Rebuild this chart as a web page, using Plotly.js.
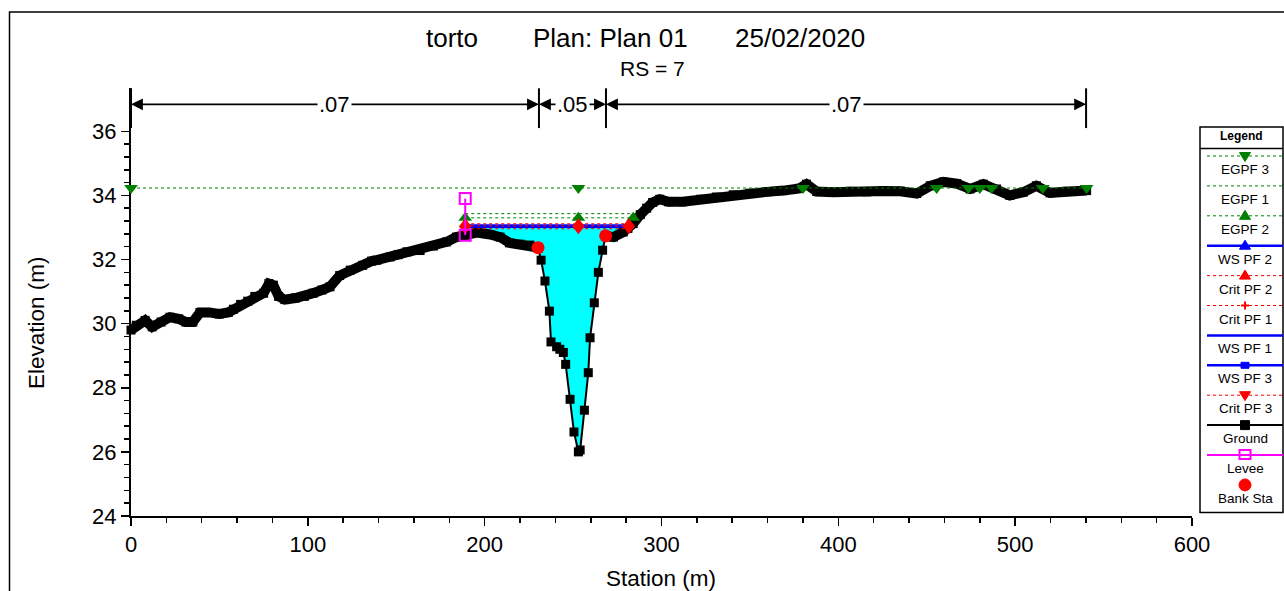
<!DOCTYPE html>
<html><head><meta charset="utf-8">
<script src="https://cdn.plot.ly/plotly-3.0.1.min.js"></script>
<style>html,body{margin:0;padding:0;background:#fff}#chart{width:1284px;height:591px}</style>
</head><body><div id="chart"></div>
<script>
// ---------------- data ----------------
const groundStation = [0, 3, 8, 12, 17, 22, 27, 31, 35, 39, 44, 50, 55, 58, 62, 66, 70, 75, 78, 80.5, 83.5, 87, 93, 98, 103, 108, 112.5, 118, 124, 131, 136, 139, 146.5, 151, 156, 163.5, 171, 178.5, 184, 189, 195.5, 203, 208.7, 214, 220, 225.6, 230.2,
  231.9, 234.1, 236.6, 237.5, 240.7, 242.5, 244.5, 245.8, 248.3, 250.5, 253, 254, 256.4, 258.6, 259.6, 262, 264.3, 266.7, 268.4,
  272.8, 278.4, 281, 284, 288, 291.6, 295, 299, 304, 312, 322, 331, 340.6, 350, 359.5, 369, 378, 382, 387.8, 397, 406.6, 416, 425.5, 435, 444.3, 452, 459.4, 467, 474.5, 482, 489.5, 497, 504.6, 512, 519.7, 529, 540.4];
const groundElev = [29.8, 29.95, 30.1, 29.9, 30.05, 30.2, 30.15, 30.05, 30.05, 30.35, 30.35, 30.3, 30.35, 30.45, 30.6, 30.7, 30.85, 30.95, 31.25, 31.2, 30.85, 30.75, 30.8, 30.85, 30.95, 31.05, 31.15, 31.5, 31.67, 31.82, 31.95, 31.98, 32.08, 32.15, 32.24, 32.28, 32.42, 32.55, 32.7, 32.76, 32.84, 32.78, 32.7, 32.52, 32.48, 32.45, 32.37,
  31.98, 31.33, 30.39, 29.43, 29.28, 29.2, 29.1, 28.73, 27.64, 26.62, 26.0, 26.06, 27.3, 28.47, 29.56, 30.65, 31.6, 32.29, 32.74,
  32.7, 32.86, 32.97, 33.12, 33.4, 33.6, 33.78, 33.88, 33.8, 33.8, 33.88, 33.95, 34.02, 34.07, 34.11, 34.15, 34.22, 34.35, 34.12, 34.1, 34.13, 34.11, 34.14, 34.13, 34.06, 34.3, 34.42, 34.37, 34.2, 34.35, 34.2, 34.0, 34.1, 34.3, 34.08, 34.13, 34.15];

const bankStation = [230.2, 268.4];
const bankElev = [32.37, 32.74];
const leveeStation = [189, 189];
const leveeElev = [32.76, 33.9];

const egPf3Station = [0, 253, 380, 455.6, 473.6, 480, 486.6, 515.6, 540.4];
const egPf3Elev = [34.23, 34.23, 34.23, 34.23, 34.23, 34.23, 34.23, 34.23, 34.23];
const egPf1Station = [189, 287];
const egPf1Elev = [33.43, 33.43];
const egPf2Station = [189, 253, 284];
const egPf2Elev = [33.30, 33.30, 33.30];
const wsPf2Station = [189, 253, 281.5];
const wsPf2Elev = [33.06, 33.06, 33.06];
const critPf2Station = [189, 253, 281.5];
const critPf2Elev = [33.115, 33.115, 33.115];
const critPf1Station = [189, 253, 281.5];
const critPf1Elev = [33.05, 33.05, 33.05];
const wsPf1Station = [189, 281.5];
const wsPf1Elev = [33.04, 33.04];
const wsPf3Station = [189, 253, 281.5];
const wsPf3Elev = [33.02, 33.02, 33.02];
const critPf3Station = [189, 253, 281.5];
const critPf3Elev = [32.96, 32.96, 32.96];

const nBoundaries = [0, 230.7, 268.6, 540.1];
const nValues = ['.07', '.05', '.07'];
const nArrowElev = 36.84;

const legendNames = ['EGPF 3', 'EGPF 1', 'EGPF 2', 'WS PF 2', 'Crit PF 2', 'Crit PF 1', 'WS PF 1', 'WS PF 3', 'Crit PF 3', 'Ground', 'Levee', 'Bank Sta'];

const xTickVals = [0, 100, 200, 300, 400, 500, 600];
const yTickVals = [24, 26, 28, 30, 32, 34, 36];

// ---------------- styles ----------------
const FONT = 'Arial, "Liberation Sans", sans-serif';
const GREEN = '#008000', BLUE = '#0000FF', RED = '#FF0000', MAG = '#FF00FF', CYAN = '#00FFFF';
const L = 131, R = 1192, T = 88, B = 516, W = 1284, H = 591;
const px2paperX = p => (p - L) / (R - L);
const px2paperY = p => (B - p) / (B - T);
const P = (x, y) => `${px2paperX(x)},${px2paperY(y)}`;

const lineStyles = {
  eg: {color: GREEN, width: 1, dash: 'dot'},
  ws: {color: BLUE, width: 2.5, dash: 'solid'},
  crit: {color: RED, width: 1, dash: 'dot'},
  ground: {color: '#000', width: 2, dash: 'solid'},
  levee: {color: MAG, width: 2, dash: 'solid'},
  none: null
};
const legendStyles = [
  {line: 'eg', sym: 'triangle-down', color: GREEN},
  {line: 'eg', sym: null},
  {line: 'eg', sym: 'triangle-up', color: GREEN},
  {line: 'ws', sym: 'triangle-up', color: BLUE},
  {line: 'crit', sym: 'triangle-up', color: RED},
  {line: 'crit', sym: 'cross', color: RED},
  {line: 'ws', sym: null},
  {line: 'ws', sym: 'square-small', color: BLUE},
  {line: 'crit', sym: 'triangle-down', color: RED},
  {line: 'ground', sym: 'square', color: '#000'},
  {line: 'levee', sym: 'square-open', color: MAG},
  {line: 'none', sym: 'circle', color: RED}
];

// ---------------- traces ----------------
const traces = [];

// water fill between WS and ground
const fillLevel = wsPf3Elev[0];
const wsEnd = wsPf3Station[wsPf3Station.length - 1];
const fillX = [leveeStation[0]], fillY = [fillLevel];
groundStation.forEach((s, i) => {
  if (s > leveeStation[0] && s < wsEnd) { fillX.push(s); fillY.push(groundElev[i]); }
});
fillX.push(wsEnd); fillY.push(fillLevel);
traces.push({x: fillX, y: fillY, mode: 'lines', fill: 'toself', fillcolor: CYAN, line: {width: 0, color: CYAN}, hoverinfo: 'skip', showlegend: false});

// ground split into overbanks (dense -> thick band) and channel
function pick(cond) {
  const xs = [], ys = [];
  groundStation.forEach((s, i) => { if (cond(s)) { xs.push(s); ys.push(groundElev[i]); } });
  return {xs, ys};
}
const lob = pick(s => s <= bankStation[0]);
const ch = pick(s => s >= bankStation[0] && s <= bankStation[1]);
const rob = pick(s => s >= bankStation[1]);
[[lob, 10], [ch, 2], [rob, 10]].forEach(([p, w]) => {
  traces.push({x: p.xs, y: p.ys, mode: 'lines+markers', line: {color: '#000', width: w},
    marker: {symbol: 'square', size: 9, color: '#000'}, showlegend: false, cliponaxis: false});
});

function profile(xs, ys, style, sym, color, size) {
  const t = {x: xs, y: ys, mode: sym ? 'lines+markers' : 'lines', line: Object.assign({}, lineStyles[style]), showlegend: false, cliponaxis: false};
  if (sym) t.marker = {symbol: sym, color: color, size: size};
  return t;
}
traces.push(profile(egPf3Station, egPf3Elev, 'eg', 'triangle-down', GREEN, 12));
traces.push(profile(egPf1Station, egPf1Elev, 'eg', null));
traces.push(profile(egPf2Station, egPf2Elev, 'eg', 'triangle-up', GREEN, 12));
traces.push(profile(wsPf2Station, wsPf2Elev, 'ws', 'triangle-up', BLUE, 10));
traces.push(profile(wsPf1Station, wsPf1Elev, 'ws', null));
traces.push(profile(wsPf3Station, wsPf3Elev, 'ws', 'square', BLUE, 6));
traces.push(profile(critPf2Station, critPf2Elev, 'crit', 'triangle-up', RED, 11));
traces.push(profile(critPf3Station, critPf3Elev, 'crit', 'triangle-down', RED, 11));
traces.push(profile(critPf1Station, critPf1Elev, 'crit', 'cross-thin', RED, 7));

// levee
traces.push({x: leveeStation, y: leveeElev, mode: 'lines+markers', line: {color: MAG, width: 2},
  marker: {symbol: 'square-open', size: 11, color: MAG, line: {width: 2, color: MAG}}, showlegend: false});
// bank stations
traces.push({x: bankStation, y: bankElev, mode: 'markers', marker: {symbol: 'circle', size: 13, color: RED}, showlegend: false});

// ---------------- custom legend ----------------
const LEG = {x0: 1200, x1: 1283, y0: 127, y1: 512.5, sep: 148.5, first: 156, step: 29.9, lx0: 1207, lx1: 1283, mx: 1245, textDy: 13.5};
const shapes = [];
const annotations = [];

shapes.push({type: 'rect', xref: 'paper', yref: 'paper', x0: px2paperX(LEG.x0), x1: px2paperX(LEG.x1), y0: px2paperY(LEG.y1), y1: px2paperY(LEG.y0),
  line: {color: '#000', width: 1.5}, fillcolor: '#fff', layer: 'below'});
shapes.push({type: 'line', xref: 'paper', yref: 'paper', x0: px2paperX(LEG.x0), x1: px2paperX(LEG.x1), y0: px2paperY(LEG.sep), y1: px2paperY(LEG.sep), line: {color: '#000', width: 1.5}});
annotations.push({xref: 'paper', yref: 'paper', x: px2paperX((LEG.x0 + LEG.x1) / 2), y: px2paperY(136), text: '<b>Legend</b>', showarrow: false,
  font: {family: FONT, size: 12, color: '#000'}, xanchor: 'center', yanchor: 'middle'});

function glyph(sym, x, y, color) {
  const base = {xref: 'paper', yref: 'paper', layer: 'above'};
  if (sym === 'triangle-down') return [Object.assign({type: 'path', path: `M ${P(x - 5.5, y - 3.5)} L ${P(x + 5.5, y - 3.5)} L ${P(x, y + 5.5)} Z`, fillcolor: color, line: {color: color, width: 1}}, base)];
  if (sym === 'triangle-up') return [Object.assign({type: 'path', path: `M ${P(x - 5.5, y + 3.5)} L ${P(x + 5.5, y + 3.5)} L ${P(x, y - 5.5)} Z`, fillcolor: color, line: {color: color, width: 1}}, base)];
  if (sym === 'square') return [Object.assign({type: 'rect', x0: px2paperX(x - 4.5), x1: px2paperX(x + 4.5), y0: px2paperY(y + 4.5), y1: px2paperY(y - 4.5), fillcolor: color, line: {color: color, width: 1}}, base)];
  if (sym === 'square-small') return [Object.assign({type: 'rect', x0: px2paperX(x - 4), x1: px2paperX(x + 4), y0: px2paperY(y + 3), y1: px2paperY(y - 3), fillcolor: color, line: {color: color, width: 1}}, base)];
  if (sym === 'square-open') return [Object.assign({type: 'rect', x0: px2paperX(x - 5.5), x1: px2paperX(x + 5.5), y0: px2paperY(y + 4), y1: px2paperY(y - 5), fillcolor: 'rgba(0,0,0,0)', line: {color: color, width: 2}}, base)];
  if (sym === 'circle') return [Object.assign({type: 'circle', x0: px2paperX(x - 6), x1: px2paperX(x + 6), y0: px2paperY(y + 6), y1: px2paperY(y - 6), fillcolor: color, line: {color: color, width: 1}}, base)];
  if (sym === 'cross') return [
    Object.assign({type: 'line', x0: px2paperX(x - 4), x1: px2paperX(x + 4), y0: px2paperY(y), y1: px2paperY(y), line: {color: color, width: 2}}, base),
    Object.assign({type: 'line', x0: px2paperX(x), x1: px2paperX(x), y0: px2paperY(y - 4), y1: px2paperY(y + 4), line: {color: color, width: 2}}, base)];
  return [];
}

legendNames.forEach((name, i) => {
  const st = legendStyles[i];
  const ly = LEG.first + i * LEG.step;
  const ls = lineStyles[st.line];
  if (ls) {
    shapes.push({type: 'line', xref: 'paper', yref: 'paper', x0: px2paperX(LEG.lx0), x1: px2paperX(LEG.lx1), y0: px2paperY(ly), y1: px2paperY(ly),
      line: {color: ls.color, width: ls.width, dash: ls.dash}});
  }
  if (st.sym) glyph(st.sym, LEG.mx, ly, st.color).forEach(s => shapes.push(s));
  annotations.push({xref: 'paper', yref: 'paper', x: px2paperX(LEG.mx), y: px2paperY(ly + LEG.textDy), text: name, showarrow: false,
    font: {family: FONT, size: 13.5, color: '#000'}, xanchor: 'center', yanchor: 'middle'});
});

// ---------------- Manning's n annotations ----------------
nBoundaries.forEach(b => {
  shapes.push({type: 'line', xref: 'x', yref: 'y', x0: b, x1: b, y0: 36.1, y1: 37.34, line: {color: '#000', width: 2}});
});
for (let i = 0; i < nValues.length; i++) {
  const a = nBoundaries[i], b = nBoundaries[i + 1], m = (a + b) / 2;
  [a, b].forEach(end => {
    annotations.push({xref: 'x', yref: 'y', axref: 'x', ayref: 'y', x: end, y: nArrowElev, ax: m, ay: nArrowElev, text: '',
      showarrow: true, arrowhead: 2, arrowsize: 1.4, arrowwidth: 1.7, arrowcolor: '#000', standoff: 0, startstandoff: 0});
  });
}
for (let i = 0; i < nValues.length; i++) {
  const m = (nBoundaries[i] + nBoundaries[i + 1]) / 2;
  annotations.push({xref: 'x', yref: 'y', x: m, y: nArrowElev, text: nValues[i], showarrow: false, bgcolor: '#fff', borderpad: 1,
    font: {family: FONT, size: 22, color: '#000'}, xanchor: 'center', yanchor: 'middle'});
}

// ---------------- titles ----------------
const titleParts = [['torto', 452], ['Plan: Plan 01', 610], ['25/02/2020', 800]];
titleParts.forEach(([t, cx]) => {
  annotations.push({xref: 'paper', yref: 'paper', x: px2paperX(cx), y: px2paperY(38), text: t, showarrow: false,
    font: {family: FONT, size: 26, color: '#000'}, xanchor: 'center', yanchor: 'middle'});
});
annotations.push({xref: 'paper', yref: 'paper', x: px2paperX(652), y: px2paperY(68), text: 'RS = 7', showarrow: false,
  font: {family: FONT, size: 21, color: '#000'}, xanchor: 'center', yanchor: 'middle'});
annotations.push({xref: 'paper', yref: 'paper', x: px2paperX(36), y: px2paperY(323), text: 'Elevation (m)', textangle: -90, showarrow: false,
  font: {family: FONT, size: 22.5, color: '#000'}, xanchor: 'center', yanchor: 'middle'});
annotations.push({xref: 'paper', yref: 'paper', x: px2paperX(661), y: px2paperY(578), text: 'Station (m)', showarrow: false,
  font: {family: FONT, size: 22.5, color: '#000'}, xanchor: 'center', yanchor: 'middle'});

// outer frame (left + top edges visible)
shapes.push({type: 'path', xref: 'paper', yref: 'paper',
  path: `M ${P(9.5, 700)} L ${P(9.5, 12)} L ${P(1400, 12)}`,
  line: {color: '#000', width: 1.5}});

// minor tick positions (only inside labelled span)
const yMinor = [];
for (let k = 1; k < 30; k++) { const v = +(24 + k * 0.4).toFixed(1); if (v < 36 && Math.abs(v / 2 - Math.round(v / 2)) > 1e-6) yMinor.push(v); }
const xMinor = [];
for (let v = 20; v < 600; v += 20) if (v % 100 !== 0) xMinor.push(v);

const layout = {
  width: W, height: H,
  margin: {l: L, r: W - R, t: T, b: H - B, pad: 0},
  paper_bgcolor: '#fff', plot_bgcolor: '#fff',
  showlegend: false,
  font: {family: FONT, color: '#000'},
  xaxis: {range: [0, 600], tickvals: xTickVals, ticktext: xTickVals.map(String), ticks: 'outside', ticklen: 8, tickwidth: 1.5, tickcolor: '#000',
    showline: true, linecolor: '#000', linewidth: 2, showgrid: false, zeroline: false, layer: 'below traces', tickfont: {family: FONT, size: 22, color: '#000'},
    minor: {tickvals: xMinor, ticks: 'outside', ticklen: 5, tickwidth: 1.5, tickcolor: '#000', showgrid: false}},
  yaxis: {range: [24, 37.35], tickvals: yTickVals, ticktext: yTickVals.map(String), ticks: 'outside', ticklen: 8, tickwidth: 1.5, tickcolor: '#000',
    showline: true, linecolor: '#000', linewidth: 2, showgrid: false, zeroline: false, layer: 'below traces', tickfont: {family: FONT, size: 22, color: '#000'},
    minor: {tickvals: yMinor, ticks: 'outside', ticklen: 5, tickwidth: 1.5, tickcolor: '#000', showgrid: false}},
  shapes: shapes,
  annotations: annotations
};

Plotly.newPlot('chart', traces, layout, {displayModeBar: false, staticPlot: true});
</script>
</body></html>
